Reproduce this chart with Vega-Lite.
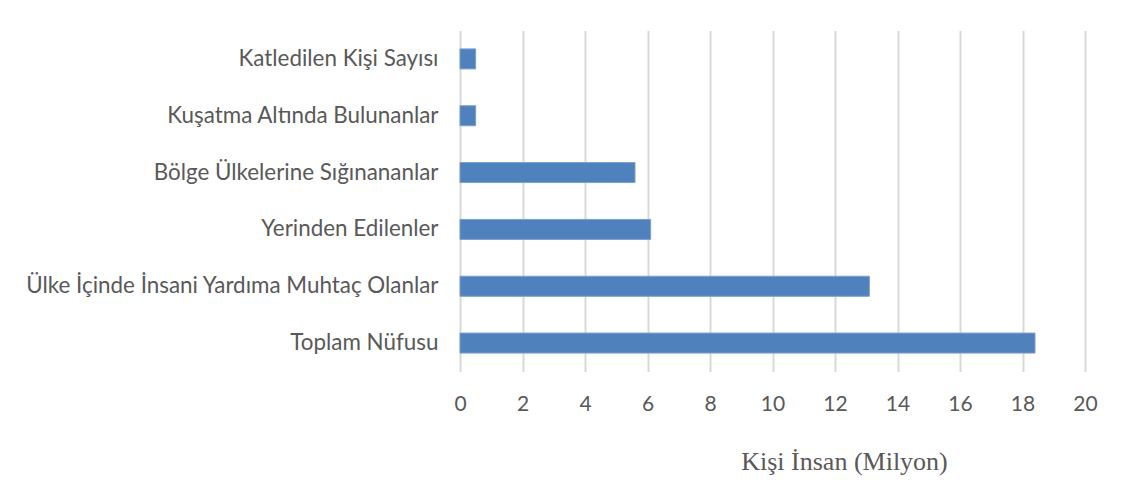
{
  "$schema": "https://vega.github.io/schema/vega-lite/v6.json",
  "width": 625,
  "height": 341,
  "autosize": {"type": "none"},
  "padding": {"left": 460, "top": 30.5, "right": 44.5, "bottom": 118.5},
  "background": "white",
  "config": {
    "view": {"stroke": null},
    "axis": {"labelFont": "Lato", "labelColor": "#595959", "labelFontSize": 21}
  },
  "data": {
    "values": [
      {"kategori": "Katledilen Kişi Sayısı", "deger": 0.5},
      {"kategori": "Kuşatma Altında Bulunanlar", "deger": 0.5},
      {"kategori": "Bölge Ülkelerine Sığınananlar", "deger": 5.6},
      {"kategori": "Yerinden Edilenler", "deger": 6.1},
      {"kategori": "Ülke İçinde İnsani Yardıma Muhtaç Olanlar", "deger": 13.1},
      {"kategori": "Toplam Nüfusu", "deger": 18.4}
    ]
  },
  "mark": {"type": "bar", "color": "#4f81bd", "stroke": "#7a9fd0", "strokeWidth": 1},
  "encoding": {
    "y": {
      "field": "kategori",
      "type": "nominal",
      "sort": null,
      "scale": {"paddingInner": 0.648, "paddingOuter": 0.324},
      "axis": {"title": null, "ticks": false, "domain": false, "grid": false, "labelPadding": 22, "labelLimit": 0, "labelFontSize": 22.4}
    },
    "x": {
      "field": "deger",
      "type": "quantitative",
      "scale": {"domain": [0, 20], "nice": false},
      "axis": {
        "values": [0, 2, 4, 6, 8, 10, 12, 14, 16, 18, 20],
        "ticks": false,
        "domain": false,
        "grid": true,
        "gridColor": "#d9d9d9",
        "gridWidth": 2,
        "labelBaseline": "alphabetic",
        "labelPadding": 39,
        "labelFlush": false,
        "title": "Kişi İnsan (Milyon)",
        "titleFont": "Liberation Serif",
        "titleFontSize": 26,
        "titleFontWeight": "normal",
        "titleColor": "#595959",
        "titleAlign": "center",
        "titleBaseline": "alphabetic",
        "titleX": 384,
        "titleY": 98
      }
    }
  }
}
